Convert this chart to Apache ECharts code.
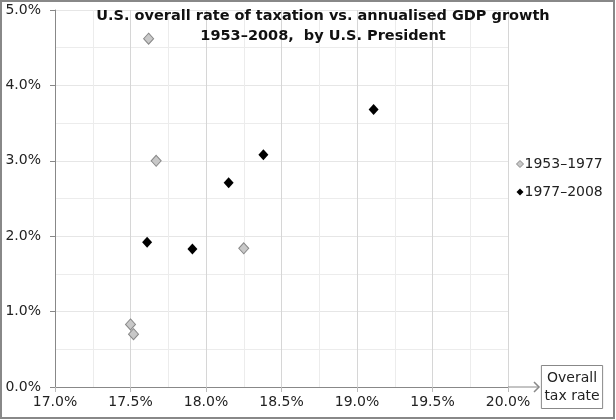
<!DOCTYPE html>
<html>
<head>
<meta charset="utf-8">
<script src="https://cdn.jsdelivr.net/npm/echarts@6/dist/echarts.min.js"></script>
<style>
html,body{margin:0;padding:0;background:#fff;}
#chart{width:616px;height:420px;}
</style>
</head>
<body>
<div id="chart"></div>
<script>
// Data
const seriesNames = ['1953–1977', '1977–2008'];
const taxRate1953 = [17.62, 17.67, 18.25, 17.50, 17.52];
const growth1953  = [4.62, 3.00, 1.84, 0.83, 0.70];
const taxRate1977 = [19.11, 18.38, 18.15, 17.61, 17.91];
const growth1977  = [3.68, 3.08, 2.71, 1.92, 1.83];
const xTicks = [17.0, 17.5, 18.0, 18.5, 19.0, 19.5, 20.0];
const yTicks = [0, 1, 2, 3, 4, 5];

const FONT = 'DejaVu Sans';
const pairs = (xs, ys) => xs.map((x, i) => [x, ys[i]]);

const chart = echarts.init(document.getElementById('chart'), null, {renderer: 'canvas'});
const option = {
  animation: false,
  backgroundColor: '#fff',
  textStyle: {fontFamily: FONT},
  title: {
    text: 'U.S. overall rate of taxation vs. annualised GDP growth\n1953–2008,  by U.S. President',
    left: 323,
    top: 6,
    padding: 0,
    textAlign: 'center',
    textStyle: {fontFamily: FONT, fontSize: 14.5, fontWeight: 'bold', color: '#111', lineHeight: 20}
  },
  legend: {
    orient: 'vertical',
    left: 511,
    top: 152,
    itemWidth: 7,
    itemHeight: 7,
    itemGap: 14,
    textStyle: {fontFamily: FONT, fontSize: 14, color: '#222', padding: [0, 0, 0, -4]},
    data: [
      {name: seriesNames[0], icon: 'diamond', itemStyle: {color: '#c8c8c8', borderColor: '#888', borderWidth: 1}},
      {name: seriesNames[1], icon: 'diamond', itemStyle: {color: '#000'}}
    ]
  },
  grid: {left: 55, right: 108, top: 10, bottom: 33, containLabel: false},
  xAxis: {
    type: 'value',
    min: xTicks[0],
    max: xTicks[xTicks.length - 1],
    interval: 0.5,
    name: 'Overall\ntax rate',
    nameLocation: 'end',
    nameGap: 64,
    nameTextStyle: {
      fontFamily: FONT, fontSize: 14, color: '#222', lineHeight: 18,
      borderColor: '#888', borderWidth: 1, padding: [4, 3, 3, 3],
      align: 'center', verticalAlign: 'middle'
    },
    axisLine: {show: true, lineStyle: {color: '#888', width: 1}},
    axisTick: {show: true, length: 5, lineStyle: {color: '#bbb'}},
    axisLabel: {fontFamily: FONT, fontSize: 14, color: '#222', margin: 8, formatter: v => v.toFixed(1) + '%'},
    splitLine: {show: true, lineStyle: {color: '#d6d6d6', width: 1}},
    minorTick: {show: false, splitNumber: 2},
    minorSplitLine: {show: true, lineStyle: {color: '#ececec', width: 1}}
  },
  yAxis: {
    type: 'value',
    min: yTicks[0],
    max: yTicks[yTicks.length - 1],
    interval: 1,
    axisLine: {show: true, lineStyle: {color: '#888', width: 1}},
    axisTick: {show: true, length: 5, lineStyle: {color: '#888'}},
    axisLabel: {fontFamily: FONT, fontSize: 14, color: '#222', margin: 14, formatter: v => v.toFixed(1) + '%'},
    splitLine: {show: true, lineStyle: {color: '#e6e6e6', width: 1}},
    minorTick: {show: false, splitNumber: 2},
    minorSplitLine: {show: true, lineStyle: {color: '#ececec', width: 1}}
  },
  series: [
    {
      name: seriesNames[0], type: 'scatter', symbol: 'diamond', symbolSize: [10, 11],
      itemStyle: {color: '#c8c8c8', borderColor: '#888', borderWidth: 1, opacity: 1},
      data: pairs(taxRate1953, growth1953), z: 3
    },
    {
      name: seriesNames[1], type: 'scatter', symbol: 'diamond', symbolSize: [10, 11],
      itemStyle: {color: '#000', opacity: 1},
      data: pairs(taxRate1977, growth1977), z: 4
    }
  ]
};
chart.setOption(option);

// Axis extension arrow and outer frame, positioned from the axis scales
const xEnd = chart.convertToPixel({xAxisIndex: 0}, xTicks[xTicks.length - 1]);
const y0 = chart.convertToPixel({yAxisIndex: 0}, yTicks[0]);
chart.setOption({
  graphic: [
    {type: 'rect', shape: {x: 1, y: 1, width: 613, height: 417}, style: {fill: 'none', stroke: '#888', lineWidth: 2}, silent: true},
    {type: 'line', shape: {x1: xEnd, y1: y0, x2: xEnd + 31, y2: y0}, style: {stroke: '#888', lineWidth: 1}, silent: true},
    {type: 'polyline', shape: {points: [[xEnd + 26, y0 - 5], [xEnd + 31, y0], [xEnd + 26, y0 + 5]]}, style: {stroke: '#888', lineWidth: 1.5, fill: 'none'}, silent: true}
  ]
});
</script>
</body>
</html>
